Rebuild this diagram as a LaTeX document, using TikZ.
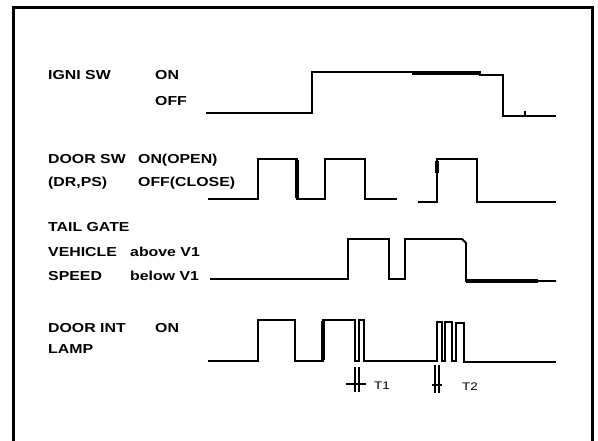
\documentclass[tikz,border=0pt]{standalone}
\usepackage{fontspec}
\newfontfamily\lblfont[FakeStretch=1.22]{Liberation Sans}
\begin{document}
\begin{tikzpicture}[x=1pt,y=-1pt,
  lbl/.style={anchor=base west,inner sep=0pt,font=\lblfont\bfseries\fontsize{13}{13}\selectfont},
  tlbl/.style={anchor=base west,inner sep=0pt,font=\lblfont\fontsize{11}{11}\selectfont},
  wave/.style={line width=1.8pt,line join=miter,line cap=butt},
  heavy/.style={line width=3.6pt},
  frameline/.style={line width=3pt},
  tick/.style={line width=1.6pt}]
\useasboundingbox (0,0) rectangle (598,441);
% frame (open at bottom)
\draw[frameline] (13,441) -- (13,8) -- (592,8) -- (592,441);

% labels
\node[lbl] (ign) at (48,80) {IGNI SW};
\node[lbl] (ignon) at (155,80) {ON};
\node[lbl] (ignoff) at (155,106) {OFF};
\node[lbl] (dsw) at (48,164) {DOOR SW};
\node[lbl] (dswon) at (138,164) {ON(OPEN)};
\node[lbl] (drps) at (48,187) {(DR,PS)};
\node[lbl] (dswoff) at (138,187) {OFF(CLOSE)};
\node[lbl] (tg) at (48,232) {TAIL GATE};
\node[lbl] (veh) at (48,257) {VEHICLE};
\node[lbl] (abv) at (130,257) {above V1};
\node[lbl] (spd) at (48,281) {SPEED};
\node[lbl] (blw) at (130,281) {below V1};
\node[lbl] (dint) at (48,333) {DOOR INT};
\node[lbl] (lon) at (155,333) {ON};
\node[lbl] (lamp) at (48,353) {LAMP};
\node[tlbl] (t1) at (374,389) {T1};
\node[tlbl] (t2) at (462,390) {T2};

% IGNI SW waveform
\draw[wave] (206,113) -- (312,113) -- (312,72) -- (480,72) -- (480,75) -- (503,75) -- (503,116) -- (556,116);
\draw[heavy] (412,73) -- (480,73);
\draw[tick] (525,111) -- (525,116);

% DOOR SW waveform
\draw[wave] (208,199) -- (258,199) -- (258,159) -- (297,159) -- (297,199) -- (325,199) -- (325,159) -- (365,159) -- (365,199) -- (397,199);
\draw[heavy] (297,160) -- (297,198);
\draw[wave] (418,202) -- (437,202) -- (437,159) -- (477,159) -- (477,202) -- (556,202);
\draw[heavy] (437,161) -- (437,173);

% VEHICLE SPEED waveform
\draw[wave] (210,279) -- (348,279) -- (348,239) -- (389,239) -- (389,279) -- (405,279) -- (405,239) -- (462,239) -- (466,243) -- (466,281) -- (556,281);
\draw[heavy] (466,281) -- (538,281);

% DOOR INT LAMP waveform
\draw[wave] (208,361) -- (258,361) -- (258,320) -- (295,320) -- (295,361) -- (323,361) -- (323,320) -- (355,320) -- (355,361) -- (359,361) -- (359,320) -- (364,320) -- (364,361) -- (437,361)
  -- (437,322) -- (442,322) -- (442,361) -- (445,361) -- (445,322) -- (452,322) -- (452,361) -- (456,361) -- (456,323) -- (464,323) -- (464,362) -- (556,362);
\draw[heavy] (323,321) -- (323,360);

% T1 / T2 markers
\coordinate (a1) at (355,367); \coordinate (a2) at (355,392);
\coordinate (b1) at (359,367); \coordinate (b2) at (359,392);
\coordinate (h1) at (346,384); \coordinate (h2) at (366,384);
\draw[tick] (a1) -- (a2) (b1) -- (b2) (h1) -- (h2);
\coordinate (c1) at (435,365); \coordinate (c2) at (435,393);
\coordinate (d1) at (439,365); \coordinate (d2) at (439,393);
\coordinate (k1) at (432,385); \coordinate (k2) at (442,385);
\draw[tick] (c1) -- (c2) (d1) -- (d2) (k1) -- (k2);
\end{tikzpicture}
\end{document}
